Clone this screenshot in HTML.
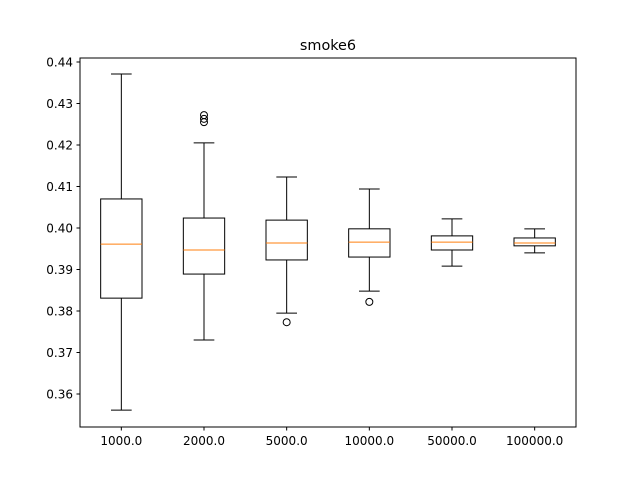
<!DOCTYPE html>
<html><head><meta charset="utf-8"><style>
html,body{margin:0;padding:0;background:#fff;}
svg{display:block;font-family:"DejaVu Sans","Liberation Sans",sans-serif;}
</style></head><body>
<svg id="chart" width="640" height="480" viewBox="0 0 640 480">
<rect x="0" y="0" width="640" height="480" fill="#fff"/>
<text x="328" y="50" text-anchor="middle" font-size="14.4">smoke6</text>
<g id="marks"></g>
<g id="axes"></g>
</svg>
<script>
const categories = ["1000.0","2000.0","5000.0","10000.0","50000.0","100000.0"];
const whiskerHigh = [0.4371,0.4205,0.4123,0.4094,0.4022,0.3998];
const q3Values = [0.4070,0.4024,0.4019,0.3998,0.3981,0.3976];
const medians = [0.3961,0.3947,0.3964,0.3966,0.3966,0.3964];
const q1Values = [0.3831,0.3889,0.3923,0.3930,0.3947,0.3957];
const whiskerLow = [0.3561,0.3730,0.3795,0.3848,0.3908,0.3940];
const fliers = [[],[0.4272,0.4263,0.4255],[0.3773],[0.3822],[],[]];
const yTicks = [0.36,0.37,0.38,0.39,0.40,0.41,0.42,0.43,0.44];

const L=80,R=576,T=58,B=427;
const NS="http://www.w3.org/2000/svg";
function xScale(i){return L+(i+0.5)*(R-L)/categories.length;}
function yScale(v){return 228-(v-0.40)*4150;}
const unit=(R-L)/categories.length;
const marks=document.getElementById('marks'), axes=document.getElementById('axes');
function mk(tag,attrs,parent){const e=document.createElementNS(NS,tag);for(const k in attrs)e.setAttribute(k,attrs[k]);parent.appendChild(e);return e;}

categories.forEach((c,i)=>{
  const cx=xScale(i), hw=unit*0.25, cw=unit*0.125;
  const g=mk('g',{},marks);
  
  
  const box=mk('rect',{x:cx-hw,y:yScale(q3Values[i]),width:2*hw,height:yScale(q1Values[i])-yScale(q3Values[i]),fill:'none',stroke:'#000','stroke-width':1},g);
  
  
  const w1=mk('line',{x1:cx,x2:cx,y1:yScale(q3Values[i]),y2:yScale(whiskerHigh[i]),stroke:'#000'},g);
  
  
  const w2=mk('line',{x1:cx,x2:cx,y1:yScale(q1Values[i]),y2:yScale(whiskerLow[i]),stroke:'#000'},g);
  
  
  const c1=mk('line',{x1:cx-cw,x2:cx+cw,y1:yScale(whiskerHigh[i]),y2:yScale(whiskerHigh[i]),stroke:'#000'},g);
  
  
  const c2=mk('line',{x1:cx-cw,x2:cx+cw,y1:yScale(whiskerLow[i]),y2:yScale(whiskerLow[i]),stroke:'#000'},g);
  
  
  const m=mk('line',{x1:cx-hw,x2:cx+hw,y1:yScale(medians[i]),y2:yScale(medians[i]),stroke:'#ff7f0e'},g);
  
  
  fliers[i].forEach(v=>{
    const f=mk('circle',{cx:cx,cy:yScale(v),r:3.5,fill:'none',stroke:'#000'},g);
    
    
  });
  mk('line',{x1:cx,x2:cx,y1:B,y2:B+3.5,stroke:'#000'},axes);
  const t=mk('text',{x:cx,y:B+18,'text-anchor':'middle','font-size':12},axes);
  t.textContent=c;
  
  
});
yTicks.forEach(v=>{
  const y=yScale(v);
  mk('line',{x1:L-3.5,x2:L,y1:y,y2:y,stroke:'#000'},axes);
  const t=mk('text',{x:L-7,y:y+4.5,'text-anchor':'end','font-size':12},axes);
  t.textContent=v.toFixed(2);
  
  
});
const frame=mk('rect',{x:L,y:T,width:R-L,height:B-T,fill:'none',stroke:'#000','stroke-width':1},axes);


</script>
</body></html>
